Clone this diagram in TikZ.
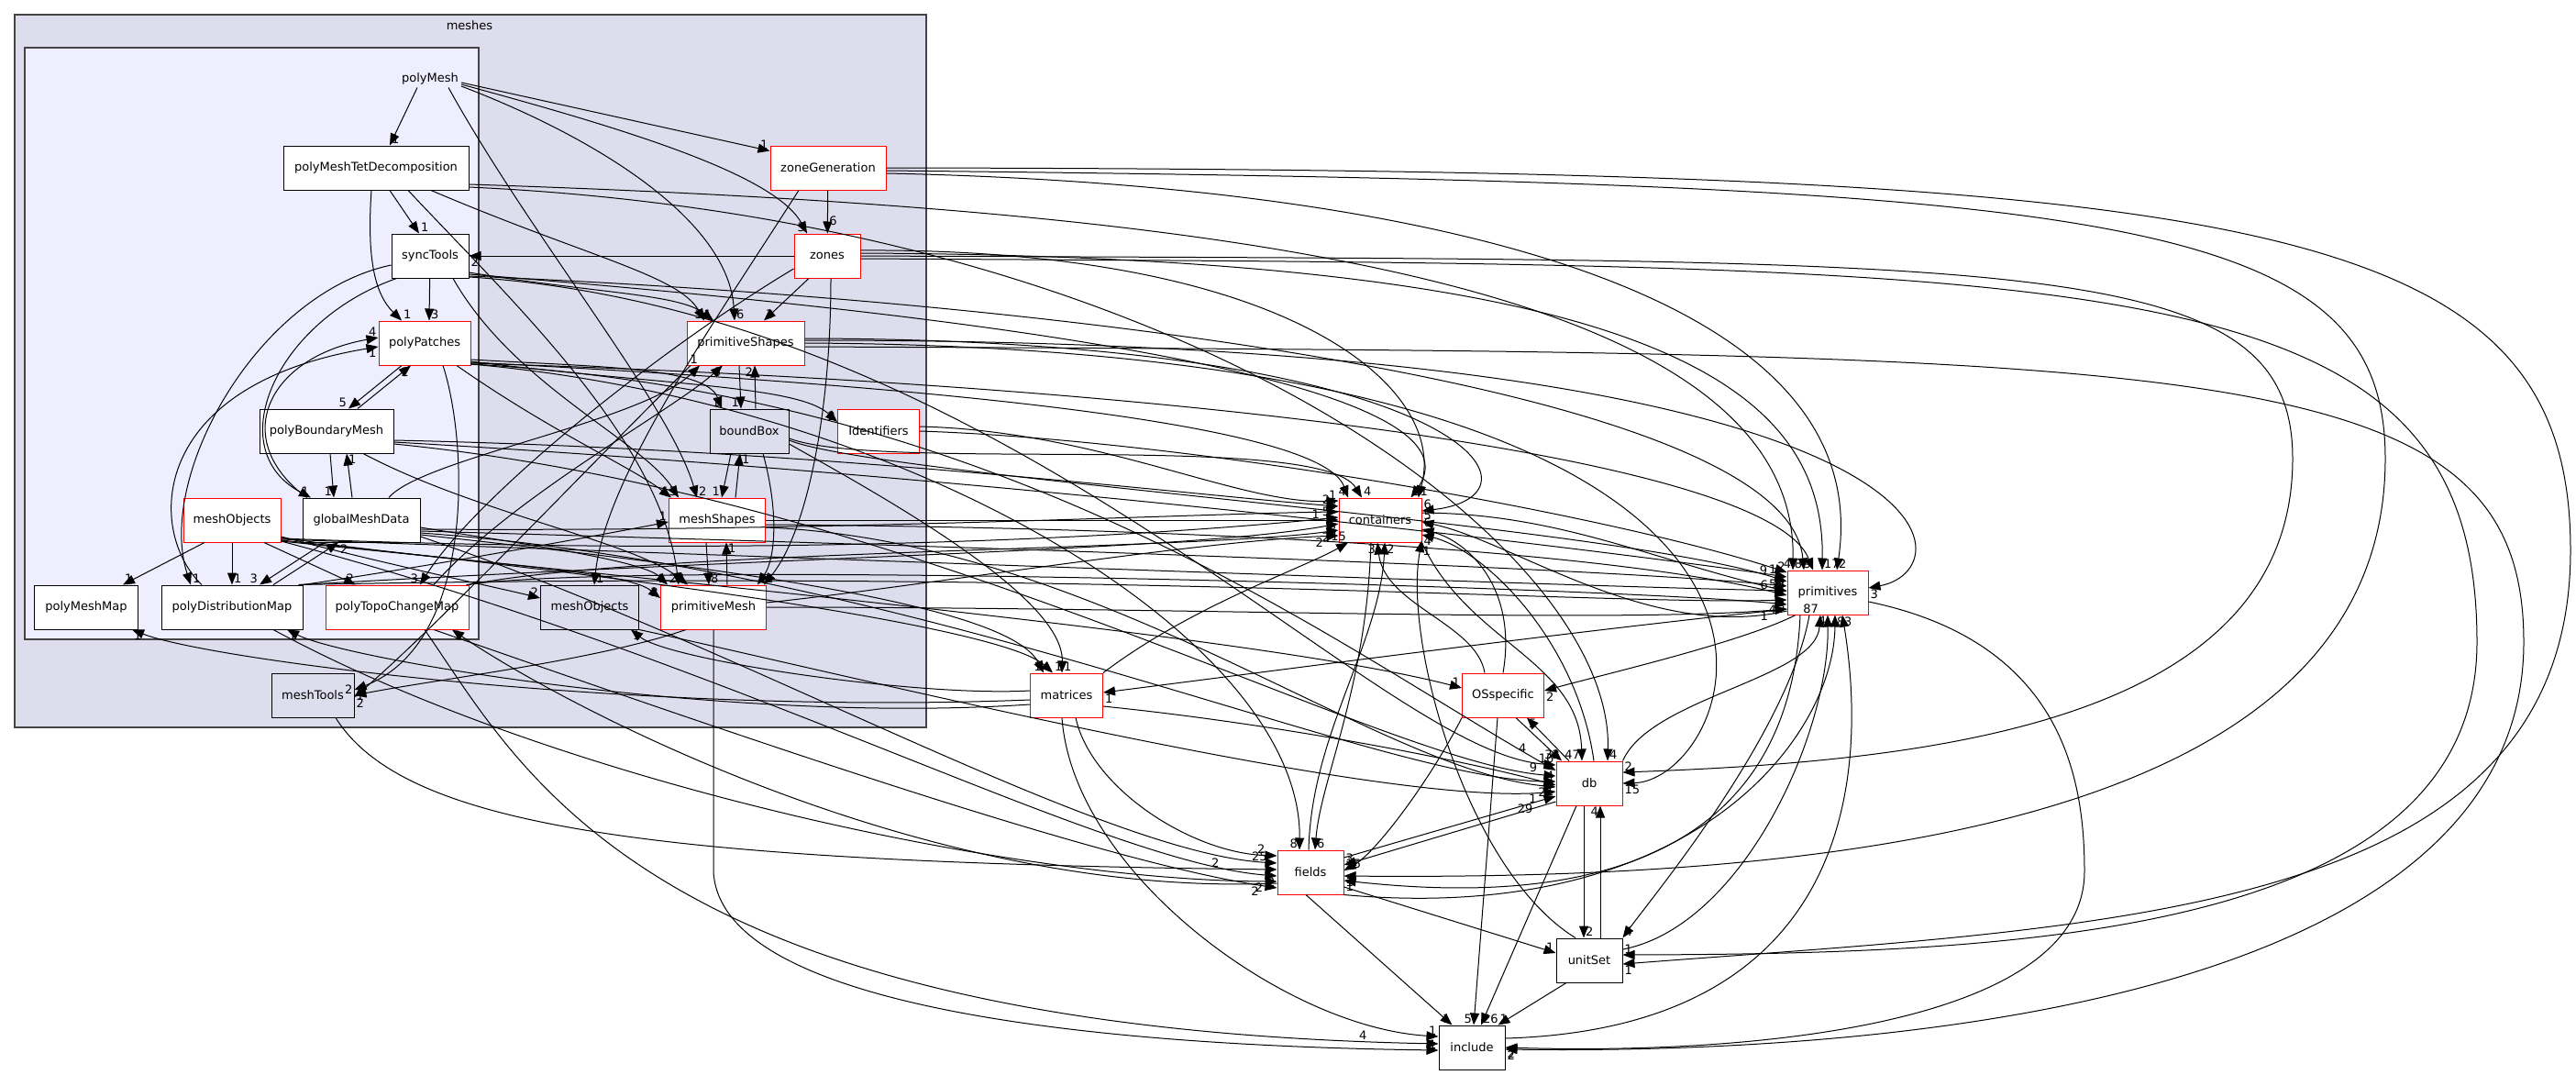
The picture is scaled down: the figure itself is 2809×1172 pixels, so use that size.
\documentclass[tikz,border=0pt]{standalone}
\usepackage{fontspec}
\setmainfont{DejaVu Sans}
\usetikzlibrary{arrows.meta}
\definecolor{clA}{HTML}{DDDDEE}
\definecolor{clB}{HTML}{EEEEFF}
\definecolor{clBorder}{HTML}{444444}
\begin{document}
\begin{tikzpicture}[x=1pt,y=-1pt,
  nf/.style={font=\fontsize{13}{15}\selectfont},
  box/.style={nf, draw=black, line width=1pt, fill=white, minimum height=48pt, inner sep=0pt},
  redbox/.style={box, draw=red},
  graybox/.style={box, fill=clA},
  e/.style={draw=black, line width=1pt, -{Triangle[length=13pt,width=10pt]}},
  l/.style={font=\fontsize{13}{14}\selectfont, inner sep=1.5pt, text=black},
  la/.style={l, pos=1, anchor=south east},
  lr/.style={l, pos=1, anchor=south west},
  lb/.style={l, pos=1, anchor=north west},
  lbl/.style={l, pos=1, anchor=north east}]
\useasboundingbox (0,0) rectangle (2809,1172);
\fill[white] (0,0) rectangle (2809,1172);
% clusters
\draw[fill=clA, draw=clBorder, line width=1.5pt] (16,16) rectangle (1010,793);
\node[nf] (meshlbl) at (512,28) {meshes};
\draw[fill=clB, draw=clBorder, line width=1.5pt] (27,52) rectangle (522,697);
\node[nf, inner sep=3pt] (pm) at (469,86) {polyMesh};
% nodes
\node[box, minimum width=202pt] (ptd) at (410,183) {polyMeshTetDecomposition};
\node[redbox, minimum width=126pt] (zg) at (903,183) {zoneGeneration};
\node[box, minimum width=84pt] (st) at (469,279) {syncTools};
\node[redbox, minimum width=72pt] (zn) at (902,279) {zones};
\node[redbox, minimum width=100pt] (pp) at (463,374) {polyPatches};
\node[redbox, minimum width=128pt] (ps) at (813,374) {primitiveShapes};
\node[box, minimum width=146pt] (pbm) at (356,470) {polyBoundaryMesh};
\node[graybox, minimum width=86pt] (bb) at (817,470) {boundBox};
\node[redbox, minimum width=89pt] (id) at (958,470) {Identifiers};
\node[redbox, minimum width=106pt] (mor) at (253,567) {meshObjects};
\node[box, minimum width=128pt] (gmd) at (394,567) {globalMeshData};
\node[redbox, minimum width=105pt] (ms) at (782,567) {meshShapes};
\node[box, minimum width=113pt] (pmm) at (94,662) {polyMeshMap};
\node[box, minimum width=154pt] (pdm) at (253,662) {polyDistributionMap};
\node[redbox, minimum width=156pt] (ptcm) at (433,662) {polyTopoChangeMap};
\node[graybox, minimum width=107pt] (mog) at (643,662) {meshObjects};
\node[redbox, minimum width=115pt] (prm) at (778,662) {primitiveMesh};
\node[graybox, minimum width=90pt] (mt) at (341,758) {meshTools};
\node[redbox, minimum width=90pt] (co) at (1505,567) {containers};
\node[redbox, minimum width=79pt] (mx) at (1163,758) {matrices};
\node[redbox, minimum width=89pt] (os) at (1639,758) {OSspecific};
\node[redbox, minimum width=72pt] (db) at (1733,854) {db};
\node[redbox, minimum width=72pt] (fi) at (1429,951) {fields};
\node[box, minimum width=72pt] (us) at (1733,1047) {unitSet};
\node[box, minimum width=72pt] (inc) at (1605,1142) {include};
\node[redbox, minimum width=88pt] (pr) at (1993,646) {primitives};
% polyMesh
\draw[e] ([xshift=-14pt]pm.south) -- ([xshift=15pt]ptd.north) node[lr]{1};
\draw[e] ([xshift=20pt]pm.south) .. controls (580,260) and (730,440) .. ([xshift=-22pt]ms.north) node[lr]{2};
\draw[e] ([yshift=-4pt]pm.east) -- ([yshift=-6pt]zg.north west) node[la]{1};
\draw[e] ([yshift=-6pt]pm.east) .. controls (680,140) and (845,190) .. ([xshift=-22pt]zn.north) node[la]{3};
\draw[e] ([yshift=-8pt]pm.east) .. controls (650,150) and (795,240) .. ([xshift=-12pt]ps.north) node[lr]{6};
% zoneGeneration
\draw[e] (zg) -- (zn) node[lr,pos=0.85]{6};
\draw[e] ([xshift=-32pt]zg.south) .. controls (780,350) and (660,520) .. ([xshift=5pt]mog.north) node[lr]{1};
\draw[e] (zg.east) .. controls (2450,185) and (2803,230) .. (2803,600) .. controls (2803,1000) and (2300,1010) .. ([yshift=-4pt]us.east) node[lb]{1};
\draw[e] ([yshift=-3pt]zg.east) .. controls (2300,200) and (2601,230) .. (2601,500) .. controls (2601,900) and (2000,960) .. ([yshift=-4pt]fi.east) node[lb]{1};
\draw[e] ([yshift=-6pt]zg.east) .. controls (1500,200) and (2050,300) .. ([xshift=10pt]pr.north) node[lr]{2};
% zones
\draw[e] (zn) -- (st) node[lb]{2};
\draw[e] ([xshift=-20pt]zn.south) -- ([xshift=20pt]ps.north) node[lr]{3};
\draw[e] ([xshift=4pt]zn.south) .. controls (906,450) and (880,580) .. ([xshift=-3pt]prm.north east) node[lr]{1};
\draw[e] ([yshift=-14pt]zn.west) .. controls (720,380) and (520,540) .. ([xshift=25pt]ptcm.north) node[la]{3};
\draw[e] ([yshift=6pt]zn.east) .. controls (1400,270) and (1580,420) .. ([xshift=-4pt]co.north east) node[lr]{1};
\draw[e] ([yshift=3pt]zn.east) .. controls (1800,280) and (1990,420) .. ([xshift=-6pt]pr.north) node[lr]{17};
\draw[e] (zn.east) .. controls (2200,285) and (2500,270) .. (2500,500) .. controls (2500,790) and (2100,830) .. ([yshift=12pt]db.east) node[lr]{2};
\draw[e] ([yshift=-3pt]zn.east) .. controls (2300,290) and (2701,280) .. (2701,700) .. controls (2701,1020) and (2200,1040) .. ([yshift=6pt]us.east) node[lr]{1};
% syncTools
\draw[e] (st) -- ([xshift=5pt]pp.north) node[lr]{3};
\draw[e] ([yshift=-10pt]st.west) .. controls (280,320) and (170,520) .. ([xshift=-45pt]pdm.north) node[lr]{1};
\draw[e] ([xshift=6pt]st.south west) .. controls (300,350) and (240,490) .. ([xshift=-55pt]gmd.north) node[la]{1};
\draw[e] ([xshift=25pt]st.south) .. controls (560,420) and (700,480) .. ([xshift=-42pt]ms.north) node[la]{3};
\draw[e] ([yshift=-18pt]st.east) .. controls (650,320) and (740,320) .. ([xshift=-35pt]ps.north) node[la]{1};
\draw[e] ([yshift=-20pt]st.east) .. controls (900,330) and (1640,400) .. ([xshift=-12pt]co.north east) node[lr]{9};
\draw[e] ([yshift=-22pt]st.east) .. controls (1200,330) and (1950,430) .. ([xshift=-26pt]pr.north) node[la]{8};
\draw[e] ([yshift=-23pt]st.east) .. controls (1100,340) and (1500,820) .. ([yshift=20pt]db.west) node[la]{16};
% polyMeshTetDecomposition
\draw[e] ([xshift=15pt]ptd.south) -- ([xshift=-12pt]st.north) node[lr]{1};
\draw[e] ([xshift=-5pt]ptd.south) .. controls (400,280) and (408,320) .. ([xshift=-25pt]pp.north) node[lr]{1};
\draw[e] ([xshift=60pt]ptd.south) .. controls (640,280) and (740,300) .. ([xshift=-45pt]ps.north) node[la]{3};
\draw[e] ([xshift=35pt]ptd.south) .. controls (560,330) and (720,480) .. ([xshift=-38pt]prm.north) node[la]{2};
\draw[e] ([yshift=-18pt]ptd.east) .. controls (1300,227) and (1960,300) .. ([xshift=-38pt]pr.north) node[la]{4};
\draw[e] ([yshift=-21pt]ptd.east) .. controls (1300,240) and (1760,600) .. ([xshift=20pt]db.north) node[lr]{4};
% polyPatches
\draw[e] ([xshift=-25pt]pp.south) -- ([xshift=24pt]pbm.north) node[la]{5};
\draw[e] ([xshift=34pt]pbm.north) -- ([xshift=-15pt]pp.south) node[lbl]{2};
\draw[e] ([xshift=20pt]pp.south) .. controls (510,480) and (520,700) .. ([yshift=6pt]mt.east) node[lb]{1};
\draw[e] ([xshift=35pt]pp.south) .. controls (600,470) and (690,510) .. ([xshift=-50pt]ms.north) node[la]{1};
\draw[e] ([yshift=-18pt]pp.east) .. controls (650,400) and (770,400) .. ([xshift=-30pt]bb.north) node[la]{1};
\draw[e] ([yshift=-20pt]pp.east) .. controls (720,420) and (870,420) .. ([yshift=10pt]id.west) node[la]{2};
\draw[e] ([yshift=-21pt]pp.east) .. controls (1000,420) and (1440,460) .. ([xshift=-35pt]co.north) node[la]{4};
\draw[e] ([yshift=-22pt]pp.east) .. controls (1300,420) and (1930,500) .. ([xshift=-16pt]pr.north) node[la]{9};
\draw[e] ([yshift=-23pt]pp.east) .. controls (1100,430) and (1450,700) .. ([yshift=14pt]db.west) node[la,pos=0.96]{4};
\draw[e] ([yshift=-23pt]pp.east) .. controls (1000,440) and (1420,700) .. ([xshift=-12pt]fi.north) node[la]{8};
% polyBoundaryMesh
\draw[e] ([xshift=4pt]pbm.south) -- ([xshift=-30pt]gmd.north) node[la]{1};
\draw[e] ([xshift=-10pt]gmd.north) -- ([xshift=22pt]pbm.south) node[lb]{1};
\draw[e] ([yshift=-10pt]pbm.east) .. controls (900,490) and (1300,540) .. ([yshift=15pt]co.west) node[la,pos=0.985]{2};
\draw[e] ([yshift=-12pt]pbm.east) .. controls (1100,520) and (1750,600) .. ([yshift=17pt]pr.west) node[la,pos=0.985]{1};
\draw[e] ([yshift=-14pt]pbm.east) .. controls (1000,540) and (1500,830) .. ([yshift=8pt]db.west) node[la,pos=0.97]{9};
\draw[e] ([xshift=40pt]pbm.south) .. controls (520,560) and (690,590) .. ([xshift=-28pt]prm.north) node[la]{1};
% globalMeshData
\draw[e] ([xshift=5pt]gmd.north west) .. controls (250,480) and (290,390) .. ([yshift=6pt]pp.west) node[la]{4};
\draw[e] ([xshift=-33pt]pdm.north) .. controls (160,580) and (160,420) .. ([yshift=-4pt]pp.west) node[lbl]{1};
\draw[e] ([xshift=-40pt]gmd.south) -- ([xshift=30pt]pdm.north) node[la]{3};
\draw[e] ([xshift=45pt]pdm.north) -- ([xshift=-25pt]gmd.south) node[lb]{2};
\draw[e] ([xshift=30pt]gmd.north) .. controls (460,500) and (700,460) .. ([xshift=-50pt]ps.south) node[la]{1};
\draw[e] ([yshift=-8pt]gmd.east) .. controls (550,590) and (700,610) .. ([xshift=-50pt]prm.north) node[la]{1};
\draw[e] ([yshift=-10pt]gmd.east) .. controls (900,580) and (1300,560) .. ([yshift=9pt]co.west) node[la]{3};
\draw[e] ([yshift=-12pt]gmd.east) .. controls (1200,600) and (1750,620) .. ([yshift=7pt]pr.west) node[la]{4};
\draw[e] ([yshift=-14pt]gmd.east) .. controls (1000,620) and (1500,850) .. ([yshift=2pt]db.west) node[la]{4};
\draw[e] ([yshift=-16pt]gmd.east) .. controls (800,620) and (1100,660) .. ([xshift=-25pt]mx.north) node[la]{1};
\draw[e] ([yshift=-18pt]gmd.east) .. controls (800,700) and (1200,930) .. ([yshift=10pt]fi.west) node[la,pos=0.985]{25};
% meshObjects (red)
\draw[e] ([xshift=-30pt]mor.south) -- ([xshift=40pt]pmm.north) node[lr]{1};
\draw[e] (mor) -- (pdm) node[lr]{1};
\draw[e] ([xshift=35pt]mor.south) -- ([xshift=-45pt]ptcm.north) node[la]{2};
\draw[e] ([yshift=-18pt]mor.east) .. controls (420,615) and (540,640) .. ([yshift=10pt]mog.west) node[la]{2};
\draw[e] ([yshift=-19pt]mor.east) .. controls (500,615) and (680,620) .. ([yshift=10pt]prm.west) node[la]{2};
\draw[e] ([yshift=-20pt]mor.east) .. controls (900,610) and (1300,580) .. ([yshift=3pt]co.west) node[la,pos=0.985]{5};
\draw[e] ([yshift=-21pt]mor.east) .. controls (1200,620) and (1750,640) .. ([yshift=2pt]pr.west) node[la,pos=0.985]{5};
\draw[e] ([yshift=-22pt]mor.east) .. controls (800,640) and (1100,690) .. ([xshift=-15pt]mx.north) node[lr]{1};
\draw[e] ([yshift=-23pt]mor.east) .. controls (900,650) and (1400,700) .. ([yshift=8pt]os.west) node[la]{1};
\draw[e] ([yshift=-23pt]mor.east) .. controls (800,720) and (1200,940) .. ([yshift=-4pt]fi.west) node[lbl]{2};
% meshShapes
\draw[e] ([xshift=20pt]ms.north) -- ([xshift=-10pt]bb.south) node[lb]{1};
\draw[e] ([xshift=-20pt]bb.south) -- ([xshift=5pt]ms.north) node[la]{1};
\draw[e] ([xshift=-12pt]ms.south) -- ([xshift=-5pt]prm.north) node[lr]{8};
\draw[e] ([xshift=15pt]prm.north) -- ([xshift=10pt]ms.south) node[lb]{1};
\draw[e] (ms) -- (co) node[la,pos=0.97]{1};
\draw[e] ([yshift=-5pt]ms.east) .. controls (1300,575) and (1750,600) .. ([yshift=-3pt]pr.west) node[la,pos=0.97]{6};
\draw[e] ([yshift=-8pt]ms.east) .. controls (1200,590) and (1500,840) .. ([yshift=-4pt]db.west) node[lbl,pos=0.985]{2};
% primitiveShapes / boundBox
\draw[e] ([xshift=-60pt]ps.south) .. controls (650,500) and (480,680) .. ([yshift=-2pt]mt.east) node[lb]{2};
\draw[e] ([xshift=-7pt]ps.south) -- ([xshift=-9pt]bb.north) node[la]{1};
\draw[e] ([xshift=7pt]bb.north) -- ([xshift=10pt]ps.south) node[lbl]{2};
\draw[e] ([xshift=15pt]bb.south) .. controls (850,560) and (845,610) .. ([xshift=-10pt]prm.north east) node[lr]{1};
\draw[e] ([yshift=-8pt]bb.east) .. controls (960,515) and (1440,470) .. ([xshift=-20pt]co.north) node[lr]{4};
\draw[e] ([yshift=-10pt]bb.east) .. controls (960,520) and (1750,570) .. ([yshift=12pt]pr.west) node[la,pos=0.97]{9};
\draw[e] ([yshift=-14pt]bb.east) .. controls (960,540) and (1160,650) .. ([xshift=-5pt]mx.north) node[lr]{1};
\draw[e] ([yshift=5pt]ps.east) .. controls (1600,370) and (1700,540) .. ([yshift=10pt]co.east) node[lr]{6};
\draw[e] ([yshift=3pt]ps.east) .. controls (2150,370) and (2150,620) .. ([yshift=5pt]pr.east) node[lb]{3};
\draw[e] (ps.east) .. controls (2100,380) and (1900,850) .. ([yshift=0pt]db.east) node[lb]{15};
\draw[e] ([yshift=-4pt]ps.east) .. controls (2400,385) and (2752,380) .. (2752,700) .. controls (2752,1080) and (2100,1150) .. ([yshift=-2pt]inc.east) node[lb]{2};
% Identifiers
\draw[e] ([yshift=5pt]id.east) .. controls (1200,470) and (1350,550) .. ([yshift=21pt]co.west) node[la]{1};
\draw[e] (id.east) .. controls (1300,480) and (1750,560) .. ([yshift=22pt]pr.west) node[la]{2};
% polyDistributionMap
\draw[e] (pdm.north east) .. controls (450,620) and (620,590) .. ([yshift=-2pt]ms.west) node[la]{1};
\draw[e] ([xshift=-3pt]pdm.north east) .. controls (900,605) and (1300,600) .. ([yshift=-4pt]co.west) node[lbl]{3};
\draw[e] ([xshift=-5pt]pdm.north east) .. controls (1200,620) and (1750,660) .. ([yshift=-8pt]pr.west) node[lbl]{3};
\draw[e] ([xshift=45pt]pdm.south) .. controls (600,850) and (1100,960) .. ([yshift=-10pt]fi.west) node[lbl,pos=0.985]{2};
\draw[e] ([yshift=-10pt]mx.west) .. controls (800,790) and (380,720) .. ([xshift=60pt]pdm.south) node[lb]{1};
% polyTopoChangeMap
\draw[e] ([xshift=40pt]ptcm.north) .. controls (560,540) and (730,450) .. ([xshift=-25pt]ps.south) node[lbl]{6};
\draw[e] (ptcm.north east) .. controls (700,600) and (1300,600) .. ([yshift=-11pt]co.west) node[lbl,pos=0.985]{2};
\draw[e] ([xshift=-3pt]ptcm.north east) .. controls (700,610) and (1750,640) .. ([yshift=-13pt]pr.west) node[lbl,pos=0.985]{4};
\draw[e] ([xshift=30pt]ptcm.south) .. controls (570,840) and (700,1120) .. ([yshift=4pt]inc.west) node[la,pos=0.97]{4};
\draw[e] ([xshift=40pt]ptcm.south) .. controls (800,800) and (1200,940) .. ([yshift=-17pt]fi.west) node[lbl,pos=0.97]{2};
\draw[e] ([yshift=-12pt]fi.west) .. controls (1000,980) and (600,760) .. ([xshift=60pt]ptcm.south) node[lb]{1};
% meshObjects (gray)
\draw[e] (mog.south east) .. controls (900,730) and (1500,880) .. ([yshift=-9pt]db.west) node[lbl,pos=0.97]{1};
\draw[e] ([yshift=5pt]mx.west) .. controls (1000,760) and (730,720) .. ([xshift=45pt]mog.south) node[lb]{1};
% primitiveMesh
\draw[e] ([xshift=-30pt]prm.south) .. controls (650,720) and (480,740) .. (mt.east) node[la]{2};
\draw[e] (prm.south) -- (778,950) .. controls (785,1100) and (1200,1140) .. ([yshift=-3pt]inc.west) node[la]{1};
\draw[e] ([yshift=5pt]prm.east) .. controls (1000,640) and (1300,590) .. ([yshift=-17pt]co.west) node[lbl,pos=0.97]{2};
\draw[e] (prm.east) .. controls (1300,662) and (1750,680) .. ([yshift=-18pt]pr.west) node[lbl,pos=0.97]{1};
% meshTools
\draw[e] ([xshift=25pt]mt.south) .. controls (440,900) and (700,940) .. ([yshift=3pt]fi.west) node[la,pos=0.97]{2};
% matrices
\draw[e] (mx.north east) .. controls (1300,660) and (1420,620) .. ([xshift=-35pt]co.south) node[la]{15};
\draw[e] ([yshift=-5pt]mx.west) .. controls (700,780) and (230,720) .. ([xshift=50pt]pmm.south) node[lb]{1};
\draw[e] ([yshift=-12pt]mx.east) .. controls (1400,790) and (1600,830) .. ([yshift=-2pt]db.west) node[lbl]{1};
\draw[e] ([xshift=10pt]mx.south) .. controls (1190,860) and (1300,930) .. ([yshift=18pt]fi.west) node[la,pos=0.96]{2};
\draw[e] ([xshift=-5pt]mx.south) .. controls (1170,950) and (1400,1120) .. ([yshift=12pt]inc.west) node[la]{1};
\draw[e] ([yshift=-18pt]pr.west) .. controls (1700,690) and (1400,730) .. ([yshift=3pt]mx.east) node[lb]{1};
% containers
\draw[e] ([yshift=8pt]co.east) .. controls (1700,560) and (1800,610) .. ([yshift=-23pt]pr.north west) node[la]{4};
\draw[e] ([yshift=-20pt]pr.west) .. controls (1800,700) and (1650,590) .. ([yshift=-2pt]co.east) node[lr]{5};
\draw[e] (co.south east) .. controls (1600,700) and (1722,720) .. ([xshift=-8pt]db.north) node[la]{47};
\draw[e] ([xshift=-10pt]co.south) .. controls (1490,750) and (1440,850) .. ([xshift=5pt]fi.north) node[lr]{6};
\draw[e] ([xshift=-2pt]fi.north) .. controls (1430,800) and (1505,700) .. ([xshift=5pt]co.south) node[lb]{2};
\draw[e] ([xshift=-20pt]os.north) .. controls (1610,680) and (1510,660) .. ([xshift=-3pt]co.south) node[lbl]{3};
\draw[e] (os.north) .. controls (1655,640) and (1600,590) .. ([yshift=-10pt]co.east) node[lr]{6};
\draw[e] ([xshift=5pt]db.north) .. controls (1720,700) and (1620,600) .. ([yshift=-16pt]co.east) node[lb]{4};
\draw[e] ([xshift=-15pt]us.north) .. controls (1600,950) and (1530,700) .. ([yshift=-22pt]co.east) node[lb,pos=0.985]{1};
% OSspecific
\draw[e] ([xshift=14pt]os.south) -- ([xshift=-30pt]db.north) node[la]{32};
\draw[e] ([xshift=-22pt]db.north) -- ([xshift=26pt]os.south) node[lb]{5};
\draw[e] ([xshift=-6pt]os.south) -- ([xshift=2pt]inc.north) node[la]{5};
\draw[e] ([xshift=-14pt]db.south) -- ([xshift=10pt]inc.north) node[lr]{26};
\draw[e] ([xshift=-35pt]pr.south) .. controls (1900,700) and (1750,735) .. ([yshift=5pt]os.east) node[lb]{2};
\draw[e] (os.south west) .. controls (1560,850) and (1500,930) .. ([yshift=2pt]fi.east) node[lr]{15};
% db
\draw[e] ([xshift=-6pt]db.south) -- ([xshift=-6pt]us.north) node[lr]{2};
\draw[e] ([xshift=12pt]us.north) -- ([xshift=12pt]db.south) node[lbl]{4};
\draw[e] ([yshift=16pt]fi.east) -- ([yshift=-14pt]db.west) node[lbl,pos=0.9]{29};
\draw[e] ([yshift=-20pt]db.west) -- ([yshift=8pt]fi.east) node[lr]{3};
\draw[e] (db.north east) .. controls (1800,760) and (1980,740) .. ([xshift=-8pt]pr.south) node[la]{87};
\draw[e] ([xshift=-30pt]pr.south) .. controls (1950,980) and (1650,980) .. ([yshift=-9pt]fi.east) node[lb]{1};
% fields / unitSet / include / primitives
\draw[e] ([yshift=-16pt]fi.east) -- ([yshift=8pt]us.west) node[la]{1};
\draw[e] ([xshift=-25pt]us.south) -- ([xshift=-8pt]inc.north east) node[lr]{1};
\draw[e] ([xshift=-5pt]fi.south) -- ([xshift=15pt]inc.north west) node[la]{1};
\draw[e] ([yshift=12pt]us.east) .. controls (1900,1010) and (1995,800) .. (pr.south) node[lbl]{4};
\draw[e] (fi.south east) .. controls (1850,1010) and (2000,800) .. ([xshift=8pt]pr.south) node[lb]{8};
\draw[e] ([yshift=10pt]inc.east) .. controls (2050,1120) and (2030,800) .. ([xshift=16pt]pr.south) node[lb]{3};
\draw[e] ([xshift=-20pt]pr.south) .. controls (1950,800) and (1800,980) .. (us.north east) node[lr]{4};
\draw[e] ([yshift=-10pt]pr.east) .. controls (2250,700) and (2273,850) .. (2273,950) .. controls (2273,1120) and (1900,1150) .. (inc.east) node[lb]{2};
\end{tikzpicture}
\end{document}
